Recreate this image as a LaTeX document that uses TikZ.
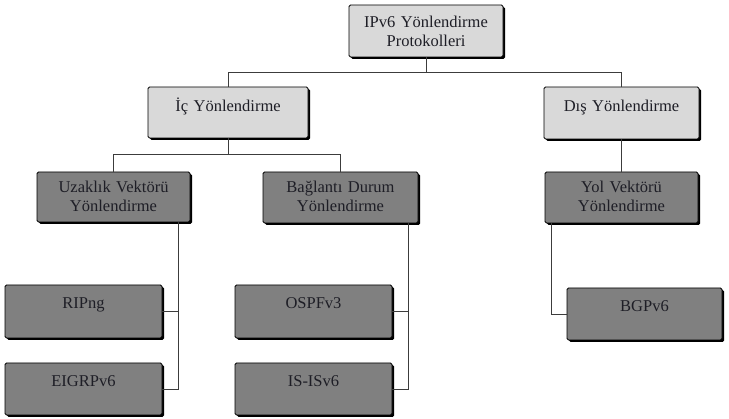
\documentclass[tikz,border=0pt]{standalone}
\usepackage{fontspec}
\setmainfont{Liberation Serif}
\usetikzlibrary{shadows}
\usetikzlibrary{calc}
\usepackage{color}
\definecolor{light_gray}{RGB}{217, 217, 217}
\definecolor{dark_gray}{RGB}{128, 128, 128}
\definecolor{ink}{RGB}{30, 30, 38}
\definecolor{wire}{RGB}{60, 60, 60}

\begin{document}
\begin{tikzpicture}[x=1pt, y=-1pt,
        box/.style={shape=rectangle, draw=black, line width=0.8pt, rounded corners=1.5pt,
            text=ink, font=\fontsize{16.5}{19}\selectfont, align=center, inner sep=0pt,
            drop shadow={shadow xshift=2pt, shadow yshift=-2pt, fill=black, opacity=1}},
        light_box/.style={box, fill=light_gray},
        dark_box/.style={box, fill=dark_gray}]
        \useasboundingbox (0,0) rectangle (729,419);

        \node[light_box, text width=154pt, text height=23pt, text depth=29pt] (root) at (426,31) {IPv6 Yönlendirme\\Protokolleri};
        \node[light_box, text width=160pt, text height=25pt, text depth=26pt] (ic) at (228,112.5) {İç Yönlendirme};
        \node[light_box, text width=155pt, text height=25pt, text depth=27pt] (dis) at (621.5,113) {Dış Yönlendirme};

        \node[dark_box, text width=153pt, text height=21pt, text depth=29pt] (uzak) at (113.5,197) {Uzaklık Vektörü\\Yönlendirme};
        \node[dark_box, text width=155pt, text height=21pt, text depth=30pt] (bag) at (340.5,197.5) {Bağlantı Durum\\Yönlendirme};
        \node[dark_box, text width=153pt, text height=21pt, text depth=30pt] (yol) at (621.5,197.5) {Yol Vektörü\\Yönlendirme};

        \node[dark_box, text width=157pt, text height=24pt, text depth=29pt] (rip) at (83.5,311.5) {RIPng};
        \node[dark_box, text width=157pt, text height=24pt, text depth=28pt] (eigrp) at (83.5,389) {EIGRPv6};
        \node[dark_box, text width=157pt, text height=24pt, text depth=29pt] (ospf) at (313.5,311.5) {OSPFv3};
        \node[dark_box, text width=157pt, text height=24pt, text depth=28pt] (isis) at (313.5,389) {IS-ISv6};
        \node[dark_box, text width=155pt, text height=24pt, text depth=28pt] (bgp) at (644.5,314) {BGPv6};

        \coordinate (uzak_down) at ($(uzak.south east)+(-12,0)$);
        \coordinate (bag_down) at ($(bag.south east)+(-10,0)$);
        \coordinate (yol_down) at ($(yol.south west)+(7,0)$);

    \begin{scope}[every path/.style={draw=wire, line width=0.7pt}]
        \draw (root.south) -- +(0,15) -| (ic.north);
        \draw (root.south) -- +(0,15) -| (dis.north);
        \draw (ic.south) -- +(0,16) -| (uzak.north);
        \draw (ic.south) -- +(0,16) -| (bag.north);
        \draw (dis.south) -- (yol.north);
        \draw (uzak_down) |- (rip.east);
        \draw (uzak_down) |- (eigrp.east);
        \draw (bag_down) |- (ospf.east);
        \draw (bag_down) |- (isis.east);
        \draw (yol_down) |- (bgp.west);
    \end{scope}

\end{tikzpicture}
\end{document}
